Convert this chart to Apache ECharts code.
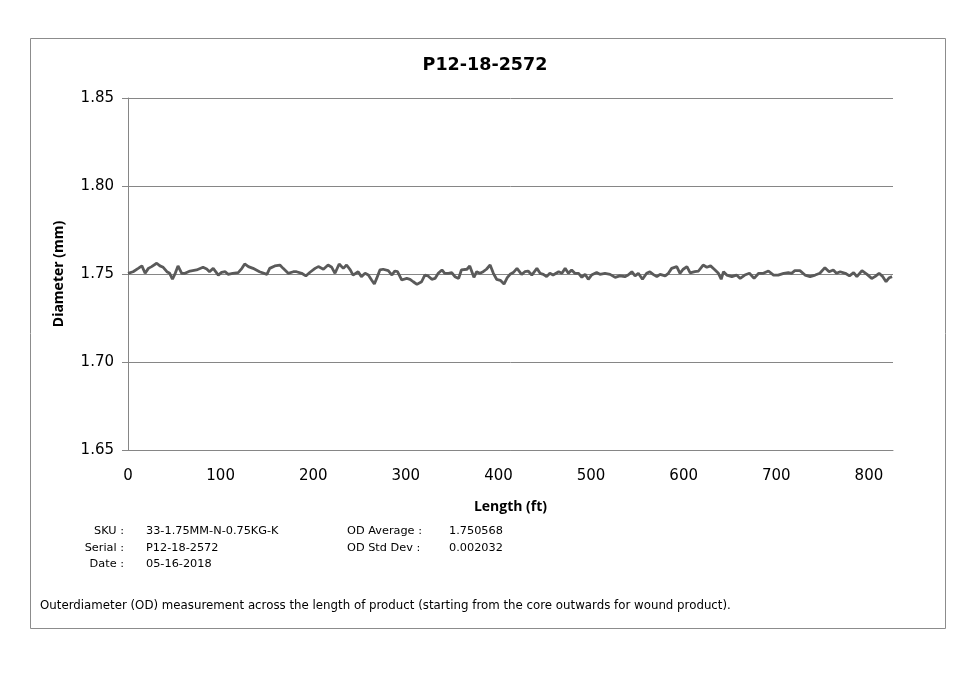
<!DOCTYPE html>
<html>
<head>
<meta charset="utf-8">
<script src="https://cdn.jsdelivr.net/npm/echarts@6/dist/echarts.min.js"></script>
<style>
html,body{margin:0;padding:0;background:#fff;}
#chart{width:963px;height:679px;}
</style>
</head>
<body>
<div id="chart"></div>
<script>
const title = "P12-18-2572";
const xAxisName = "Length (ft)";
const yAxisName = "Diameter (mm)";
const lengths = [0,5.5,11,15,18.5,22,25.5,31,34.5,38,42,45,48,51,54,58,61.5,67,74,81,85,88,92,97.5,101,105,108,113,119,123,126,130,135,142,150,153,158.5,164,167.5,173,178.5,182,187.5,192,196.5,202,205.5,211,216,220,223.5,228,232.5,236,240,243,248.5,252,256,259.5,263,266,268.5,272,275.5,281,285,288,291,295.5,301,304.5,308,312,317,320.5,324,328,331.5,335,339,342,346,349.5,353,357,360,366,369,373.5,376.5,380,383.5,387,391,394.5,398,402,406,409.5,412.5,416,420,425,428.5,432,436,441.5,445,448.5,452,455.5,459,465,468.5,472,475.5,479,482.5,486.5,490,493.5,497,500.5,506,509.5,515,520.5,526,531,536.5,540,544,547.5,551,555.5,560,563.5,567,571,574.5,580,583.5,587,592.5,596,599.5,603.5,607,612,616,621,625,629,633,637.5,640.5,643,646.5,652,657,661,666,671,676,681,686,691.5,697,702,708,713,716.5,720,725.5,731,736.5,742,747,752.5,757,761.5,765,769,774.5,779,783.5,787,792.5,798,803,806.5,811,815,818.5,822,825];
const diameters = [1.7504,1.7513,1.7532,1.7546,1.7504,1.7532,1.7542,1.7561,1.7546,1.7538,1.7513,1.7504,1.7470,1.7504,1.7546,1.7504,1.7504,1.7517,1.7523,1.7538,1.7528,1.7513,1.7532,1.7494,1.7509,1.7513,1.7498,1.7504,1.7508,1.7532,1.7557,1.7542,1.7532,1.7513,1.7498,1.7532,1.7546,1.7551,1.7532,1.7504,1.7513,1.7513,1.7504,1.7489,1.7510,1.7532,1.7542,1.7527,1.7551,1.7538,1.7504,1.7557,1.7532,1.7551,1.7523,1.7494,1.7513,1.7485,1.7504,1.7494,1.7466,1.7443,1.7475,1.7523,1.7527,1.7519,1.7494,1.7517,1.7513,1.7466,1.7475,1.7470,1.7456,1.7441,1.7456,1.7494,1.7489,1.7470,1.7475,1.7504,1.7523,1.7504,1.7504,1.7508,1.7485,1.7475,1.7523,1.7527,1.7546,1.7481,1.7513,1.7504,1.7513,1.7527,1.7551,1.7504,1.7470,1.7464,1.7443,1.7479,1.7498,1.7508,1.7532,1.7498,1.7513,1.7517,1.7494,1.7532,1.7504,1.7498,1.7485,1.7504,1.7494,1.7513,1.7504,1.7532,1.7504,1.7523,1.7504,1.7504,1.7481,1.7498,1.7470,1.7494,1.7508,1.7498,1.7504,1.7498,1.7481,1.7489,1.7485,1.7494,1.7513,1.7489,1.7504,1.7470,1.7504,1.7513,1.7498,1.7485,1.7498,1.7489,1.7504,1.7532,1.7542,1.7504,1.7527,1.7542,1.7506,1.7513,1.7517,1.7551,1.7538,1.7546,1.7527,1.7504,1.7470,1.7513,1.7494,1.7485,1.7494,1.7475,1.7494,1.7504,1.7475,1.7504,1.7504,1.7517,1.7494,1.7494,1.7504,1.7508,1.7504,1.7519,1.7519,1.7494,1.7485,1.7494,1.7504,1.7536,1.7513,1.7523,1.7504,1.7513,1.7504,1.7489,1.7508,1.7485,1.7519,1.7498,1.7475,1.7485,1.7504,1.7485,1.7456,1.7479,1.7485];
const infoLabelsLeft = ["SKU :", "Serial :", "Date :"];
const infoValuesLeft = ["33-1.75MM-N-0.75KG-K", "P12-18-2572", "05-16-2018"];
const infoLabelsRight = ["OD Average :", "OD Std Dev :"];
const infoValuesRight = ["1.750568", "0.002032"];
const footnote = "Outerdiameter (OD) measurement across the length of product (starting from the core outwards for wound product).";

const FONT = "'DejaVu Sans', sans-serif";
const FONT2 = "'Open Sans', 'Noto Sans', sans-serif";
const chart = echarts.init(document.getElementById('chart'), null, {renderer: 'canvas'});
const seriesData = lengths.map((x, i) => [x, diameters[i]]);

const graphics = [
  {type: 'rect', shape: {x: 30.5, y: 38.5, width: 915, height: 590}, style: {fill: 'none', stroke: '#8c8c8c', lineWidth: 1}, z: -10}
];
const rowY = [531, 548, 564];
const infoFont = '11.3px ' + FONT;
infoLabelsLeft.forEach((t, i) => {
  graphics.push({type: 'text', x: 124, y: rowY[i], style: {text: t, align: 'right', verticalAlign: 'middle', font: infoFont, fill: '#000'}});
});
infoValuesLeft.forEach((t, i) => {
  graphics.push({type: 'text', x: 146, y: rowY[i], style: {text: t, align: 'left', verticalAlign: 'middle', font: infoFont, fill: '#000'}});
});
infoLabelsRight.forEach((t, i) => {
  graphics.push({type: 'text', x: 347, y: rowY[i], style: {text: t, align: 'left', verticalAlign: 'middle', font: infoFont, fill: '#000'}});
});
infoValuesRight.forEach((t, i) => {
  graphics.push({type: 'text', x: 449, y: rowY[i], style: {text: t, align: 'left', verticalAlign: 'middle', font: infoFont, fill: '#000'}});
});
graphics.push({type: 'text', x: 40, y: 606, style: {text: footnote, align: 'left', verticalAlign: 'middle', font: '11.8px ' + FONT, fill: '#000'}});

chart.setOption({
  animation: false,
  backgroundColor: '#fff',
  title: {
    text: title, left: 480, top: 51, textAlign: 'center',
    textStyle: {fontFamily: FONT, fontSize: 17.5, fontWeight: 'bold', color: '#000'}
  },
  grid: {left: 128, right: 70, top: 98, bottom: 229, containLabel: false},
  xAxis: {
    type: 'value', min: 0, max: 826, interval: 100,
    name: xAxisName, nameLocation: 'middle', nameGap: 50,
    nameTextStyle: {fontFamily: FONT2, fontSize: 14, fontWeight: 'bold', color: '#000'},
    axisLine: {show: true, lineStyle: {color: '#868686', width: 1}},
    axisTick: {show: false},
    splitLine: {show: false},
    axisLabel: {fontFamily: FONT, fontSize: 15, color: '#000', margin: 19, showMaxLabel: false}
  },
  yAxis: {
    type: 'value', min: 1.65, max: 1.85, interval: 0.05,
    name: yAxisName, nameLocation: 'middle', nameGap: 62,
    nameTextStyle: {fontFamily: FONT2, fontSize: 14, fontWeight: 'bold', color: '#000'},
    axisLine: {show: true, lineStyle: {color: '#868686', width: 1}},
    axisTick: {show: true, length: 6, lineStyle: {color: '#868686'}},
    splitLine: {show: true, lineStyle: {color: '#868686', width: 1}},
    axisLabel: {fontFamily: FONT, fontSize: 15, color: '#000', margin: 14, formatter: v => v.toFixed(2)}
  },
  series: [{
    type: 'line', data: seriesData, showSymbol: false, symbol: 'none',
    lineStyle: {color: '#5a5a5a', width: 2.8}, smooth: false
  }],
  graphic: graphics
});
</script>
</body>
</html>
